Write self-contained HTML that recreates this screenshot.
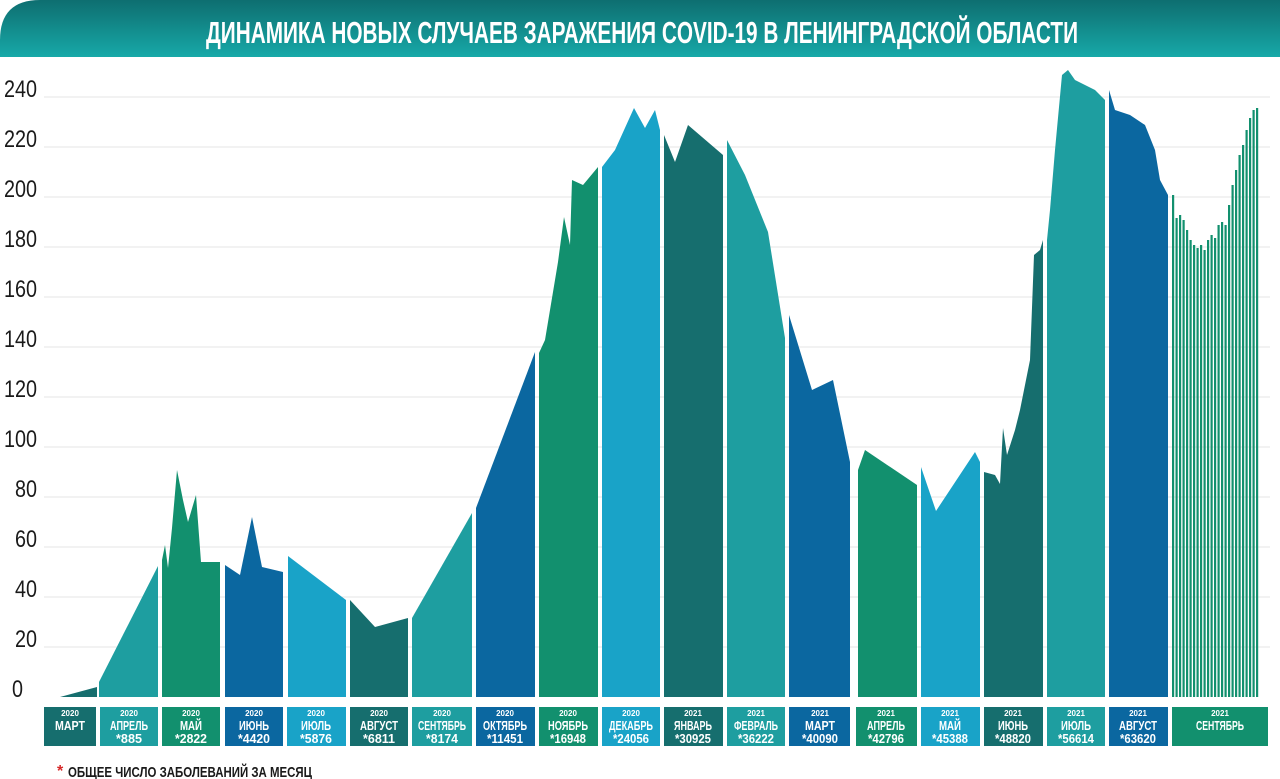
<!DOCTYPE html>
<html><head><meta charset="utf-8"><style>
body{margin:0;width:1280px;height:779px;background:#fff;overflow:hidden;font-family:"Liberation Sans",sans-serif}
</style></head><body>
<svg width="1280" height="779" xmlns="http://www.w3.org/2000/svg" style="position:absolute;left:0;top:0">
<defs><linearGradient id="bg" x1="0" y1="0" x2="0" y2="1"><stop offset="0" stop-color="#0e6e70"/><stop offset="1" stop-color="#17a9a8"/></linearGradient></defs>
<path d="M0,57 L0,40 Q0,0 40,0 L1280,0 L1280,57 Z" fill="url(#bg)"/>
<text x="642" y="43" text-anchor="middle" fill="#fff" font-size="31" font-weight="bold" font-family="Liberation Sans, sans-serif" textLength="872" lengthAdjust="spacingAndGlyphs">ДИНАМИКА НОВЫХ СЛУЧАЕВ ЗАРАЖЕНИЯ COVID-19 В ЛЕНИНГРАДСКОЙ ОБЛАСТИ</text>
<g stroke="#e6e6e6" stroke-width="1">
<line x1="44" x2="1270" y1="97" y2="97"/><line x1="44" x2="1270" y1="147" y2="147"/><line x1="44" x2="1270" y1="197" y2="197"/><line x1="44" x2="1270" y1="247" y2="247"/><line x1="44" x2="1270" y1="297" y2="297"/><line x1="44" x2="1270" y1="347" y2="347"/><line x1="44" x2="1270" y1="397" y2="397"/><line x1="44" x2="1270" y1="447" y2="447"/><line x1="44" x2="1270" y1="497" y2="497"/><line x1="44" x2="1270" y1="547" y2="547"/><line x1="44" x2="1270" y1="597" y2="597"/><line x1="44" x2="1270" y1="647" y2="647"/>
</g>
<g font-size="24" fill="#1a1a1a" font-family="Liberation Sans, sans-serif" lengthAdjust="spacingAndGlyphs">
<text x="4" y="97" textLength="33" lengthAdjust="spacingAndGlyphs">240</text><text x="4" y="147" textLength="33" lengthAdjust="spacingAndGlyphs">220</text><text x="4" y="197" textLength="33" lengthAdjust="spacingAndGlyphs">200</text><text x="4" y="247" textLength="33" lengthAdjust="spacingAndGlyphs">180</text><text x="4" y="297" textLength="33" lengthAdjust="spacingAndGlyphs">160</text><text x="4" y="347" textLength="33" lengthAdjust="spacingAndGlyphs">140</text><text x="4" y="397" textLength="33" lengthAdjust="spacingAndGlyphs">120</text><text x="4" y="447" textLength="33" lengthAdjust="spacingAndGlyphs">100</text><text x="15" y="497" textLength="22" lengthAdjust="spacingAndGlyphs">80</text><text x="15" y="547" textLength="22" lengthAdjust="spacingAndGlyphs">60</text><text x="15" y="597" textLength="22" lengthAdjust="spacingAndGlyphs">40</text><text x="15" y="647" textLength="22" lengthAdjust="spacingAndGlyphs">20</text><text x="12" y="697" textLength="11" lengthAdjust="spacingAndGlyphs">0</text>
</g>
<g>
<polygon fill="#166e6e" points="60,697 97,687 97,697"/>
<polygon fill="#1e9ea0" points="99,697 99,682 158,566 158,697"/>
<polygon fill="#12906e" points="162,697 162,560 165,545 168,568 172,528 177,470 183,500 188,522 196,495 201,562 220,562 220,697"/>
<polygon fill="#0b67a0" points="225,697 225,565 240,575 252,517 262,567 283,572 283,697"/>
<polygon fill="#19a3c8" points="288,697 288,556 346,600 346,697"/>
<polygon fill="#166e6e" points="350,697 350,600 375,627 408,618 408,697"/>
<polygon fill="#1e9ea0" points="412,697 412,618 472,513 472,697"/>
<polygon fill="#0b67a0" points="476,697 476,508 535,352 535,697"/>
<polygon fill="#12906e" points="539,697 539,353 545,340 558,262 564,217 570,245 572,180 583,185 598,167 598,697"/>
<polygon fill="#19a3c8" points="602,697 602,167 615,150 634,108 645,128 655,110 660,130 660,697"/>
<polygon fill="#166e6e" points="664,697 664,135 675,162 688,125 723,155 723,697"/>
<polygon fill="#1e9ea0" points="727,697 727,140 745,175 768,232 785,338 785,697"/>
<polygon fill="#0b67a0" points="789,697 789,315 812,390 833,380 850,462 850,697"/>
<polygon fill="#12906e" points="858,697 858,470 865,450 917,485 917,697"/>
<polygon fill="#19a3c8" points="921,697 921,467 936,511 975,452 980,462 980,697"/>
<polygon fill="#166e6e" points="984,697 984,472 995,475 1000,484 1003,428 1007,455 1015,430 1020,410 1030,360 1034,255 1040,250 1043,240 1043,697"/>
<polygon fill="#1e9ea0" points="1047,697 1047,240 1050,210 1055,150 1062,75 1068,70 1075,80 1085,85 1095,90 1105,100 1105,697"/>
<polygon fill="#0b67a0" points="1109,697 1109,90 1115,110 1130,115 1145,125 1155,150 1160,180 1168,195 1168,697"/>
<g fill="#12906e">
<rect x="1172" y="195" width="2.2" height="502"/><rect x="1175.5" y="218" width="2.2" height="479"/><rect x="1179" y="215" width="2.2" height="482"/><rect x="1182.5" y="220" width="2.2" height="477"/><rect x="1186" y="230" width="2.2" height="467"/><rect x="1189.5" y="240" width="2.2" height="457"/><rect x="1193" y="245" width="2.2" height="452"/><rect x="1196.5" y="248" width="2.2" height="449"/><rect x="1200" y="245" width="2.2" height="452"/><rect x="1203.5" y="250" width="2.2" height="447"/><rect x="1207" y="240" width="2.2" height="457"/><rect x="1210.5" y="235" width="2.2" height="462"/><rect x="1214" y="238" width="2.2" height="459"/><rect x="1217.5" y="225" width="2.2" height="472"/><rect x="1221" y="222" width="2.2" height="475"/><rect x="1224.5" y="225" width="2.2" height="472"/><rect x="1228" y="205" width="2.2" height="492"/><rect x="1231.5" y="185" width="2.2" height="512"/><rect x="1235" y="170" width="2.2" height="527"/><rect x="1238.5" y="155" width="2.2" height="542"/><rect x="1242" y="145" width="2.2" height="552"/><rect x="1245.5" y="130" width="2.2" height="567"/><rect x="1249" y="118" width="2.2" height="579"/><rect x="1252.5" y="110" width="2.2" height="587"/><rect x="1256" y="108" width="2.2" height="589"/>
</g>
</g>
<g font-family="Liberation Sans, sans-serif" font-weight="bold" fill="#fff" text-anchor="middle">
<rect x="44" y="707" width="52" height="39" fill="#166e6e"/><text x="70" y="716" font-size="8">2020</text><text x="70" y="730" font-size="13" textLength="30" lengthAdjust="spacingAndGlyphs">МАРТ</text>
<rect x="100" y="707" width="58" height="39" fill="#1e9ea0"/><text x="129" y="716" font-size="8">2020</text><text x="129" y="730" font-size="13" textLength="38" lengthAdjust="spacingAndGlyphs">АПРЕЛЬ</text><text x="129" y="743" font-size="13" textLength="26" lengthAdjust="spacingAndGlyphs">*885</text>
<rect x="162" y="707" width="58" height="39" fill="#12906e"/><text x="191" y="716" font-size="8">2020</text><text x="191" y="730" font-size="13" textLength="22" lengthAdjust="spacingAndGlyphs">МАЙ</text><text x="191" y="743" font-size="13" textLength="32" lengthAdjust="spacingAndGlyphs">*2822</text>
<rect x="225" y="707" width="58" height="39" fill="#0b67a0"/><text x="254" y="716" font-size="8">2020</text><text x="254" y="730" font-size="13" textLength="30" lengthAdjust="spacingAndGlyphs">ИЮНЬ</text><text x="254" y="743" font-size="13" textLength="32" lengthAdjust="spacingAndGlyphs">*4420</text>
<rect x="287" y="707" width="59" height="39" fill="#19a3c8"/><text x="316" y="716" font-size="8">2020</text><text x="316" y="730" font-size="13" textLength="30" lengthAdjust="spacingAndGlyphs">ИЮЛЬ</text><text x="316" y="743" font-size="13" textLength="32" lengthAdjust="spacingAndGlyphs">*5876</text>
<rect x="350" y="707" width="58" height="39" fill="#166e6e"/><text x="379" y="716" font-size="8">2020</text><text x="379" y="730" font-size="13" textLength="38" lengthAdjust="spacingAndGlyphs">АВГУСТ</text><text x="379" y="743" font-size="13" textLength="32" lengthAdjust="spacingAndGlyphs">*6811</text>
<rect x="412" y="707" width="60" height="39" fill="#1e9ea0"/><text x="442" y="716" font-size="8">2020</text><text x="442" y="730" font-size="13" textLength="48" lengthAdjust="spacingAndGlyphs">СЕНТЯБРЬ</text><text x="442" y="743" font-size="13" textLength="32" lengthAdjust="spacingAndGlyphs">*8174</text>
<rect x="476" y="707" width="59" height="39" fill="#0b67a0"/><text x="505" y="716" font-size="8">2020</text><text x="505" y="730" font-size="13" textLength="44" lengthAdjust="spacingAndGlyphs">ОКТЯБРЬ</text><text x="505" y="743" font-size="13" textLength="36" lengthAdjust="spacingAndGlyphs">*11451</text>
<rect x="539" y="707" width="59" height="39" fill="#12906e"/><text x="568" y="716" font-size="8">2020</text><text x="568" y="730" font-size="13" textLength="40" lengthAdjust="spacingAndGlyphs">НОЯБРЬ</text><text x="568" y="743" font-size="13" textLength="36" lengthAdjust="spacingAndGlyphs">*16948</text>
<rect x="602" y="707" width="58" height="39" fill="#19a3c8"/><text x="631" y="716" font-size="8">2020</text><text x="631" y="730" font-size="13" textLength="44" lengthAdjust="spacingAndGlyphs">ДЕКАБРЬ</text><text x="631" y="743" font-size="13" textLength="36" lengthAdjust="spacingAndGlyphs">*24056</text>
<rect x="664" y="707" width="59" height="39" fill="#166e6e"/><text x="693" y="716" font-size="8">2021</text><text x="693" y="730" font-size="13" textLength="38" lengthAdjust="spacingAndGlyphs">ЯНВАРЬ</text><text x="693" y="743" font-size="13" textLength="36" lengthAdjust="spacingAndGlyphs">*30925</text>
<rect x="727" y="707" width="58" height="39" fill="#1e9ea0"/><text x="756" y="716" font-size="8">2021</text><text x="756" y="730" font-size="13" textLength="44" lengthAdjust="spacingAndGlyphs">ФЕВРАЛЬ</text><text x="756" y="743" font-size="13" textLength="36" lengthAdjust="spacingAndGlyphs">*36222</text>
<rect x="789" y="707" width="61" height="39" fill="#0b67a0"/><text x="820" y="716" font-size="8">2021</text><text x="820" y="730" font-size="13" textLength="30" lengthAdjust="spacingAndGlyphs">МАРТ</text><text x="820" y="743" font-size="13" textLength="36" lengthAdjust="spacingAndGlyphs">*40090</text>
<rect x="856" y="707" width="61" height="39" fill="#12906e"/><text x="886" y="716" font-size="8">2021</text><text x="886" y="730" font-size="13" textLength="38" lengthAdjust="spacingAndGlyphs">АПРЕЛЬ</text><text x="886" y="743" font-size="13" textLength="36" lengthAdjust="spacingAndGlyphs">*42796</text>
<rect x="921" y="707" width="59" height="39" fill="#19a3c8"/><text x="950" y="716" font-size="8">2021</text><text x="950" y="730" font-size="13" textLength="22" lengthAdjust="spacingAndGlyphs">МАЙ</text><text x="950" y="743" font-size="13" textLength="36" lengthAdjust="spacingAndGlyphs">*45388</text>
<rect x="984" y="707" width="59" height="39" fill="#166e6e"/><text x="1013" y="716" font-size="8">2021</text><text x="1013" y="730" font-size="13" textLength="30" lengthAdjust="spacingAndGlyphs">ИЮНЬ</text><text x="1013" y="743" font-size="13" textLength="36" lengthAdjust="spacingAndGlyphs">*48820</text>
<rect x="1047" y="707" width="58" height="39" fill="#1e9ea0"/><text x="1076" y="716" font-size="8">2021</text><text x="1076" y="730" font-size="13" textLength="30" lengthAdjust="spacingAndGlyphs">ИЮЛЬ</text><text x="1076" y="743" font-size="13" textLength="36" lengthAdjust="spacingAndGlyphs">*56614</text>
<rect x="1109" y="707" width="59" height="39" fill="#0b67a0"/><text x="1138" y="716" font-size="8">2021</text><text x="1138" y="730" font-size="13" textLength="38" lengthAdjust="spacingAndGlyphs">АВГУСТ</text><text x="1138" y="743" font-size="13" textLength="36" lengthAdjust="spacingAndGlyphs">*63620</text>
<rect x="1172" y="707" width="96" height="39" fill="#12906e"/><text x="1220" y="716" font-size="8">2021</text><text x="1220" y="730" font-size="13" textLength="48" lengthAdjust="spacingAndGlyphs">СЕНТЯБРЬ</text>
</g>
<text x="57" y="776" font-size="16" font-weight="bold" fill="#d62828" font-family="Liberation Sans, sans-serif">*</text>
<text x="68" y="777" font-size="15" font-weight="bold" fill="#1a1a1a" font-family="Liberation Sans, sans-serif" textLength="244" lengthAdjust="spacingAndGlyphs">ОБЩЕЕ ЧИСЛО ЗАБОЛЕВАНИЙ ЗА МЕСЯЦ</text>
</svg>
</body></html>
